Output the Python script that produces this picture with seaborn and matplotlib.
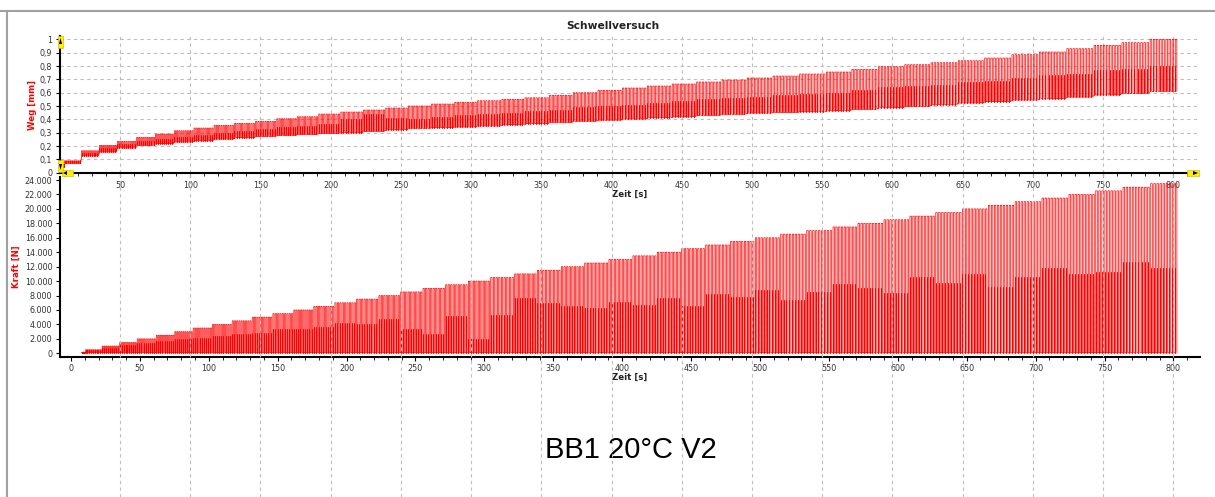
import numpy as np
import pandas as pd
import matplotlib
matplotlib.use("Agg")
import matplotlib.pyplot as plt
import matplotlib.transforms as mtransforms
from matplotlib.ticker import MultipleLocator, FuncFormatter
from matplotlib.lines import Line2D
from matplotlib.patches import Polygon, Rectangle
import seaborn as sns

# ---------------------------------------------------------------
# Stepwise cyclic load test: start time of every load level [s]
step_start_s = [7.8, 10.2, 22.3, 35.0, 47.7, 61.5, 75.0, 88.3, 102.3, 116.6,
                131.1, 146.1, 161.3, 175.8, 191.1, 206.8, 223.0, 238.8, 255.0,
                271.4, 287.9, 304.1, 321.5, 337.9, 355.4, 372.3, 389.9, 407.3,
                425.0, 442.7, 460.1, 478.2, 496.1, 514.5, 533.4, 552.5, 570.6,
                589.5, 608.3, 627.0, 646.4, 665.2, 684.6, 704.1, 723.7, 743.1,
                762.9, 783.0]
test_end_s = 803.1

# Upper force of each load level [N]
force_max_n = [150, 500, 1000, 1500, 2000, 2500, 3000, 3500, 4000, 4500,
               5000, 5500, 6000, 6500, 7000, 7500, 8000, 8500, 9000, 9500,
               10000, 10500, 11000, 11500, 12000, 12500, 13000, 13500, 14000,
               14500, 15000, 15500, 16000, 16500, 17000, 17500, 18000, 18500,
               19000, 19500, 20000, 20500, 21000, 21500, 22000, 22500, 23000,
               23500]
# Intermediate force sample reached between the peaks [N]
force_mid_n = [150, 400, 800, 1100, 1400, 1750, 1950, 2100, 2400, 2700,
               2750, 3300, 3300, 3600, 4200, 4100, 4800, 3400, 2700, 5200,
               2000, 5250, 7700, 6900, 6600, 6250, 7150, 6750, 7700, 6500,
               8250, 7750, 8800, 7400, 8500, 9600, 9000, 8300, 10500, 9750,
               11000, 9200, 10500, 11800, 11000, 11250, 12650, 11750]
force_min_n = 80

# Displacement range within each load level [mm]
weg_min_mm = [0.045, 0.07, 0.125, 0.155, 0.185, 0.205, 0.218, 0.23, 0.24,
              0.252, 0.262, 0.272, 0.28, 0.287, 0.295, 0.30, 0.31, 0.322,
              0.333, 0.338, 0.343, 0.35, 0.36, 0.368, 0.377, 0.386, 0.394,
              0.403, 0.412, 0.42, 0.43, 0.438, 0.447, 0.452, 0.457, 0.465,
              0.475, 0.487, 0.497, 0.51, 0.523, 0.533, 0.545, 0.555, 0.567,
              0.583, 0.595, 0.61]
weg_max_mm = [0.06, 0.09, 0.165, 0.205, 0.235, 0.265, 0.29, 0.315, 0.335,
              0.355, 0.37, 0.385, 0.405, 0.42, 0.44, 0.455, 0.47, 0.485,
              0.50, 0.515, 0.528, 0.54, 0.55, 0.562, 0.58, 0.60, 0.618,
              0.635, 0.65, 0.665, 0.68, 0.695, 0.71, 0.725, 0.74, 0.755,
              0.775, 0.795, 0.81, 0.825, 0.84, 0.86, 0.885, 0.905, 0.93,
              0.955, 0.975, 1.0]
weg_mid_mm = [0.055, 0.085, 0.15, 0.185, 0.215, 0.24, 0.255, 0.27, 0.285,
              0.30, 0.315, 0.325, 0.34, 0.35, 0.365, 0.40, 0.44, 0.41,
              0.40, 0.42, 0.43, 0.44, 0.45, 0.46, 0.47, 0.49, 0.50, 0.51,
              0.52, 0.535, 0.55, 0.56, 0.57, 0.58, 0.59, 0.60, 0.62, 0.64,
              0.65, 0.66, 0.68, 0.69, 0.71, 0.73, 0.74, 0.77, 0.78, 0.80]
cycles_per_step = 9

x_ticks_top = list(range(50, 801, 50))
x_ticks_bottom = list(range(0, 801, 50))
title = "Schwellversuch"
caption = "BB1 20°C V2"

# ---------------------------------------------------------------
# Trace of the load cycles: rising and falling flank per cycle,
# plus the intermediate sample drawn as a short stroke on the rising flank
rows, mids = [], []
bounds = step_start_s + [test_end_s]
for i in range(len(step_start_s)):
    period = (bounds[i + 1] - bounds[i]) / cycles_per_step
    for k in range(cycles_per_step):
        t_up = bounds[i] + (k + 0.25) * period
        t_dn = bounds[i] + (k + 0.75) * period
        for t, hi in ((t_up, False), (t_up, True), (t_dn, True), (t_dn, False)):
            rows.append({
                "Zeit": t,
                "Kraft": force_max_n[i] if hi else force_min_n,
                "Weg": weg_max_mm[i] if hi else weg_min_mm[i],
            })
        cyc = len(mids) // 2
        mids.append({"Zeit": t_up, "Kraft": force_min_n,
                     "Weg": weg_min_mm[i], "Zyklus": cyc})
        mids.append({"Zeit": t_up, "Kraft": force_mid_n[i],
                     "Weg": weg_mid_mm[i], "Zyklus": cyc})
trace = pd.DataFrame(rows)
strokes = pd.DataFrame(mids)

# ---------------------------------------------------------------
sns.set_style("white")
plt.rcParams["font.family"] = ["DejaVu Sans"]
plt.rcParams["axes.facecolor"] = "none"

W, H = 1215, 497
fig = plt.figure(figsize=(W / 100, H / 100), dpi=100)


def fx(x):
    return x / W


def fy(y):
    return 1 - y / H


ax_top = fig.add_axes([fx(60), fy(173.3), (1197 - 60) / W, (173.3 - 36) / H])
ax_bot = fig.add_axes([fx(60), fy(356.7), (1200 - 60) / W, (356.7 - 176.7) / H])

red = "#ff0000"
label_col = "#333333"
grid_col = "#bdbdbd"
dash = (0, (3, 3))
trace_lw = 0.5
stroke_lw = 0.75


def draw_signal(ax, col):
    sns.lineplot(data=trace, x="Zeit", y=col, sort=False, estimator=None,
                 color=red, linewidth=trace_lw, ax=ax)
    sns.lineplot(data=strokes, x="Zeit", y=col, units="Zyklus", sort=False,
                 estimator=None, color=red, linewidth=stroke_lw, ax=ax)


# --- displacement panel
draw_signal(ax_top, "Weg")
ax_top.set_xlim(7.26, 816.9)
ax_top.set_ylim(-0.004, 1.025)
ax_top.xaxis.set_major_locator(plt.FixedLocator(x_ticks_top))
ax_top.xaxis.set_minor_locator(MultipleLocator(10))
ax_top.yaxis.set_major_locator(MultipleLocator(0.1))
ax_top.yaxis.set_major_formatter(
    FuncFormatter(lambda v, p: ("%g" % round(v, 1)).replace(".", ",")))
ax_top.set_axisbelow(True)
ax_top.grid(True, which="major", color=grid_col, linestyle=dash, linewidth=0.8)

# --- force panel
draw_signal(ax_bot, "Kraft")
ax_bot.set_xlim(-7.98, 819.3)
ax_bot.set_ylim(-471, 24460)
ax_bot.xaxis.set_major_locator(plt.FixedLocator(x_ticks_bottom))
ax_bot.xaxis.set_minor_locator(MultipleLocator(10))
ax_bot.yaxis.set_major_locator(MultipleLocator(2000))
ax_bot.yaxis.set_major_formatter(
    FuncFormatter(lambda v, p: f"{int(round(v)):,}".replace(",", ".")))
ax_bot.grid(False)

for ax in (ax_top, ax_bot):
    ax.set_xlabel("")
    ax.set_ylabel("")
    for side in ("top", "right"):
        ax.spines[side].set_visible(False)
    for side in ("left", "bottom"):
        ax.spines[side].set_color("black")
        ax.spines[side].set_linewidth(1.5)
    ax.tick_params(which="major", length=3, width=0.8, color="black",
                   labelsize=5.8, labelcolor=label_col, pad=2.5,
                   bottom=True, left=True)
    ax.tick_params(which="minor", axis="x", length=2, width=0.6,
                   color="black", bottom=True)

# vertical grid of the time axis runs down through the whole sheet
blend = mtransforms.blended_transform_factory(ax_top.transData, fig.transFigure)
for t in x_ticks_top:
    fig.add_artist(Line2D([t, t], [0, fy(173.3)], transform=blend,
                          color=grid_col, linestyle=dash, linewidth=0.8,
                          zorder=5))

# titles and axis labels
fig.text(fx(613), fy(25.8), title, ha="center", va="center",
         fontsize=7.7, fontweight="bold", color="#222222")
fig.text(fx(629.5), fy(194), "Zeit [s]", ha="center", va="center",
         fontsize=6.2, fontweight="bold", color="#222222")
fig.text(fx(630), fy(377), "Zeit [s]", ha="center", va="center",
         fontsize=6.2, fontweight="bold", color="#222222")
fig.text(fx(32.7), fy(104.5), "Weg [mm]", ha="center", va="center",
         rotation=90, fontsize=6.2, fontweight="bold", color=red)
fig.text(fx(16.7), fy(266.7), "Kraft [N]", ha="center", va="center",
         rotation=90, fontsize=6.2, fontweight="bold", color=red)
fig.text(fx(631), fy(450), caption, ha="center", va="center",
         fontsize=21, family=["Liberation Sans", "DejaVu Sans"], color="black")

# sheet frame
fig.add_artist(Line2D([0, 1], [fy(10.5), fy(10.5)], color="#a0a0a0", linewidth=1.5))
fig.add_artist(Line2D([fx(7), fx(7)], [0, fy(10.5)], color="#a0a0a0", linewidth=1.5))


# cursor handles on the displacement axes
def handle(x0, y0, x1, y1, arrow):
    fig.add_artist(Rectangle((fx(x0), fy(y1)), (x1 - x0) / W, (y1 - y0) / H,
                             facecolor="#ffee00", edgecolor="#c8b400",
                             linewidth=0.4, zorder=6))
    fig.add_artist(Polygon([(fx(px), fy(py)) for px, py in arrow],
                           closed=True, facecolor="black", edgecolor="none",
                           zorder=7))


handle(58, 36, 63, 48, [(59, 44), (62, 44), (60.5, 38)])
handle(58, 160, 63, 172, [(59, 164), (62, 164), (60.5, 170)])
handle(62, 170, 73, 176, [(63, 173), (67, 171), (67, 175)])
handle(1187, 170, 1199, 176, [(1198, 173), (1193, 171), (1193, 175)])

fig.savefig("out.png", dpi=100)
